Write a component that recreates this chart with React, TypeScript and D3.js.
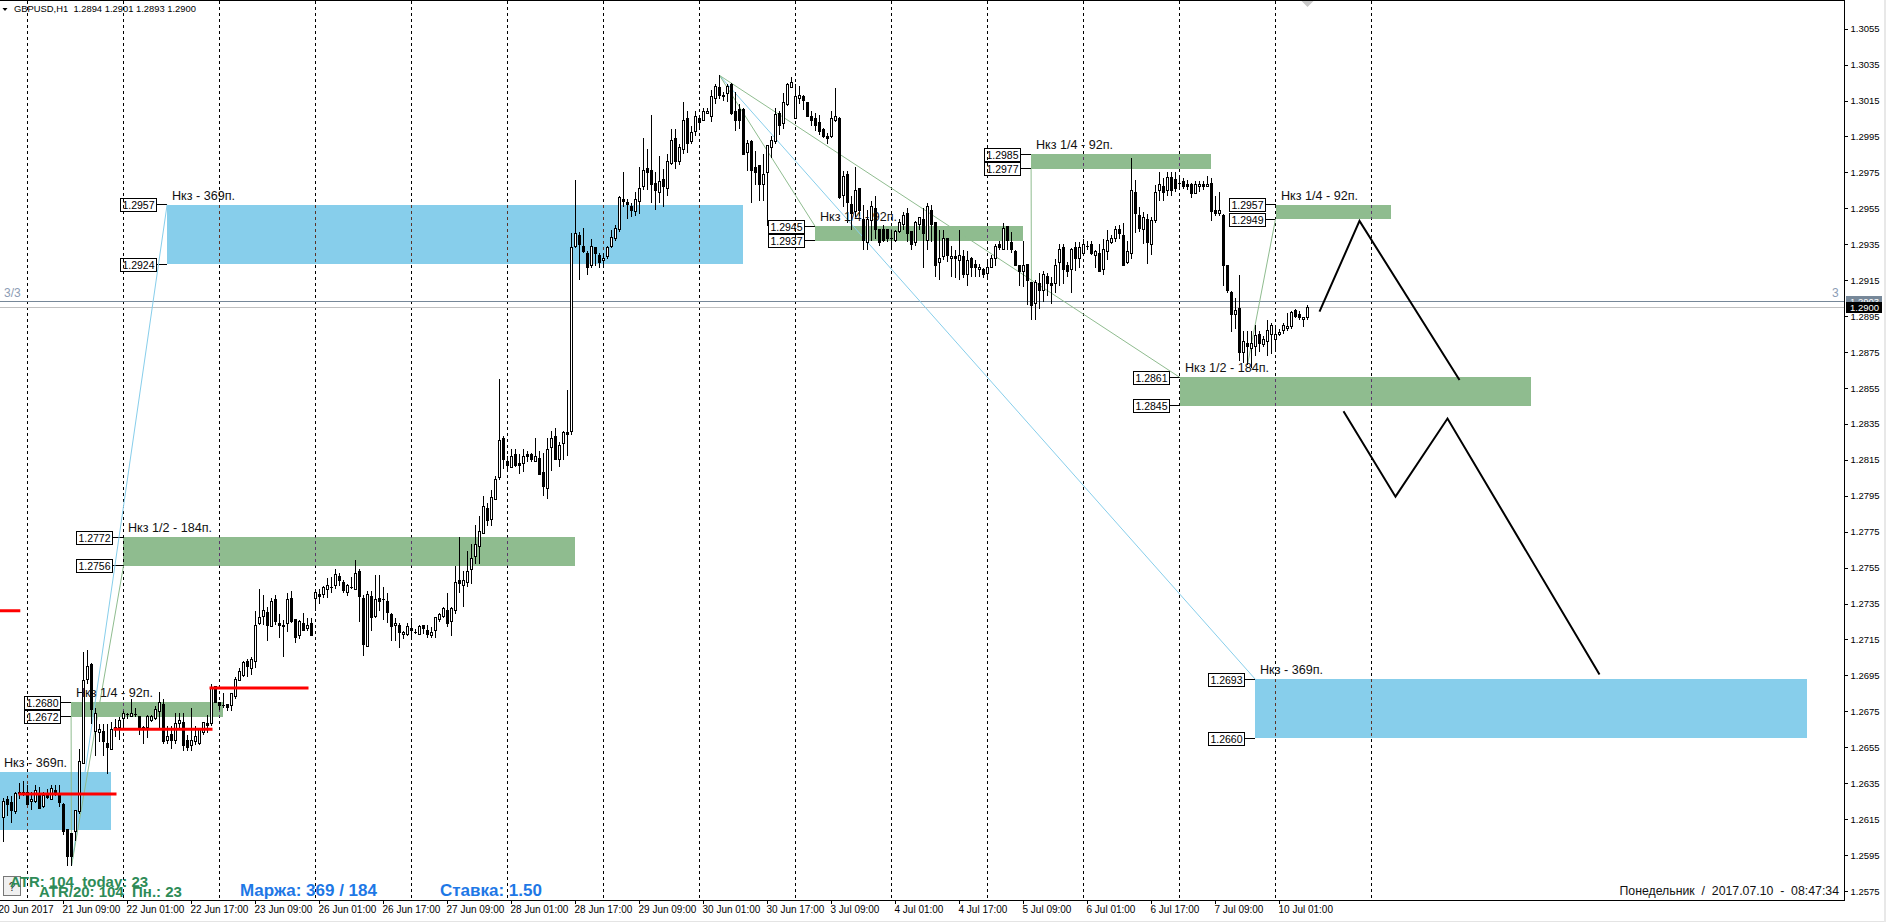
import React, { useEffect, useRef } from 'react';
import * as d3 from 'd3';

// hourly GBPUSD bars, prices in pips (1.2900 = 12900)
const opens = [
  12616,12626,12624,12619,12629,12630,12630,12625,12625,12629,
  12622,12629,12626,12631,12629,12623,12609,12607,12608,12619,
  12646,12693,12701,12664,12663,12664,12657,12654,12666,12666,
  12671,12673,12672,12673,12672,12666,12666,12670,12671,12675,
  12679,12659,12662,12659,12668,12669,12659,12656,12658,12657,
  12663,12668,12668,12689,12680,12678,12679,12678,12683,12692,
  12695,12703,12699,12703,12724,12728,12730,12722,12737,12724,
  12722,12724,12738,12726,12717,12724,12721,12724,12738,12740,
  12740,12743,12744,12745,12750,12747,12741,12744,12743,12753,
  12738,12711,12739,12728,12738,12737,12736,12729,12723,12723,
  12718,12718,12721,12719,12718,12723,12720,12717,12720,12726,
  12728,12731,12725,12731,12748,12745,12747,12754,12761,12767,
  12774,12788,12782,12793,12805,12827,12814,12811,12818,12813,
  12813,12818,12818,12814,12816,12808,12799,12822,12828,12815,
  12824,12830,12831,12934,12940,12934,12930,12923,12933,12929,
  12926,12928,12934,12938,12943,12960,12958,12956,12953,12959,
  12967,12977,12976,12969,12964,12971,12966,12980,12994,12981,
  12988,13005,12992,12998,13005,13004,13008,13006,13016,13022,
  13017,13019,13024,13009,13010,13010,12986,12992,12978,12979,
  12968,12975,12989,12992,13008,13002,13013,13022,13005,13016,
  13017,13014,13006,13005,13003,12999,12995,12995,13004,13005,
  12962,12974,12957,12953,12966,12949,12936,12948,12955,12943,
  12943,12943,12938,12937,12942,12946,12952,12942,12936,12946,
  12949,12937,12954,12947,12925,12928,12938,12927,12928,12926,
  12928,12918,12927,12924,12921,12921,12919,12922,12927,12935,
  12932,12945,12936,12931,12923,12920,12924,12914,12902,12913,
  12909,12917,12913,12913,12925,12933,12923,12921,12933,12927,
  12930,12934,12935,12929,12930,12921,12931,12936,12938,12943,
  12940,12925,12930,12964,12951,12943,12949,12935,12948,12965,
  12967,12965,12972,12971,12969,12970,12968,12968,12963,12967,
  12968,12967,12969,12954,12952,12951,12923,12908,12896,12899,
  12875,12880,12877,12878,12885,12879,12881,12885,12882,12885,
  12887,12888,12889,12898,12896,12893,12894,
];
const highs = [
  12627,12628,12628,12630,12635,12636,12634,12630,12634,12633,
  12630,12632,12634,12634,12634,12624,12609,12607,12620,12654,
  12708,12709,12702,12677,12668,12668,12668,12669,12671,12672,
  12675,12674,12682,12677,12672,12667,12673,12673,12678,12686,
  12682,12667,12667,12674,12674,12674,12662,12677,12667,12666,
  12669,12673,12690,12689,12680,12685,12679,12685,12694,12699,
  12703,12704,12705,12731,12743,12740,12733,12738,12740,12729,
  12726,12741,12742,12726,12726,12730,12727,12727,12742,12743,
  12745,12749,12750,12754,12752,12748,12746,12750,12759,12754,
  12740,12742,12742,12751,12751,12744,12741,12730,12727,12724,
  12720,12724,12727,12721,12723,12723,12723,12722,12727,12730,
  12733,12741,12733,12756,12772,12753,12764,12768,12779,12784,
  12795,12791,12798,12806,12860,12828,12817,12821,12821,12818,
  12821,12820,12819,12827,12820,12819,12827,12831,12833,12825,
  12831,12854,12941,12971,12942,12944,12931,12938,12933,12930,
  12930,12934,12943,12946,12962,12975,12960,12958,12964,12978,
  12994,12988,13007,12975,12984,12977,12985,12999,12999,12991,
  13014,13009,13001,13009,13007,13011,13011,13021,13024,13029,
  13020,13024,13025,13020,13013,13011,12993,12993,12987,12979,
  12985,12990,12995,13011,13009,13019,13025,13028,13024,13023,
  13018,13014,13009,13008,13007,13000,12997,13009,13022,13006,
  12976,12976,12962,12978,12966,12957,12954,12959,12962,12943,
  12946,12943,12943,12943,12949,12953,12955,12942,12948,12950,
  12955,12958,12957,12947,12943,12943,12938,12934,12932,12943,
  12932,12931,12928,12926,12924,12922,12925,12929,12935,12937,
  12947,12945,12942,12932,12923,12937,12924,12914,12915,12919,
  12920,12919,12917,12927,12935,12935,12925,12933,12936,12936,
  12938,12937,12937,12932,12935,12938,12943,12940,12945,12946,
  12947,12937,12983,12971,12956,12953,12952,12950,12968,12975,
  12972,12975,12975,12975,12972,12972,12971,12969,12970,12970,
  12970,12973,12972,12962,12964,12952,12923,12909,12905,12918,
  12887,12887,12887,12890,12887,12884,12893,12891,12890,12888,
  12891,12897,12898,12899,12898,12894,12901,
];
const lows = [
  12602,12617,12613,12618,12626,12628,12623,12620,12624,12621,
  12621,12626,12626,12628,12622,12606,12589,12589,12603,12618,
  12646,12690,12668,12650,12658,12650,12640,12654,12661,12659,
  12665,12671,12672,12672,12662,12657,12660,12669,12670,12665,
  12657,12657,12654,12657,12665,12653,12653,12653,12656,12656,
  12662,12663,12667,12680,12676,12677,12675,12675,12682,12692,
  12694,12694,12695,12699,12723,12723,12714,12722,12723,12716,
  12705,12719,12724,12713,12715,12720,12720,12717,12731,12735,
  12738,12738,12741,12743,12745,12741,12739,12743,12743,12725,
  12706,12711,12720,12727,12731,12726,12724,12714,12714,12710,
  12715,12717,12715,12718,12718,12718,12716,12716,12716,12725,
  12727,12722,12717,12729,12741,12733,12744,12746,12757,12757,
  12774,12778,12778,12793,12804,12810,12808,12811,12811,12807,
  12808,12814,12814,12814,12807,12795,12793,12809,12815,12811,
  12815,12817,12829,12933,12915,12930,12918,12922,12923,12922,
  12923,12927,12933,12937,12942,12956,12949,12950,12951,12952,
  12965,12965,12958,12954,12958,12956,12962,12979,12977,12979,
  12985,12986,12991,12995,12999,13004,13008,13003,13013,13016,
  13015,13014,13007,12998,12999,12985,12976,12958,12968,12959,
  12959,12945,12983,12991,12996,12999,13012,13022,13005,13013,
  13010,13006,13001,12998,12996,12994,12991,12994,13003,12960,
  12956,12947,12943,12950,12951,12932,12932,12937,12938,12934,
  12936,12936,12932,12936,12941,12943,12936,12932,12934,12943,
  12922,12932,12936,12917,12915,12926,12925,12917,12916,12915,
  12916,12912,12917,12917,12917,12916,12916,12922,12923,12932,
  12932,12932,12930,12923,12912,12911,12901,12893,12893,12899,
  12903,12906,12902,12908,12912,12913,12917,12908,12920,12922,
  12929,12932,12929,12922,12920,12918,12926,12935,12936,12938,
  12923,12924,12927,12941,12942,12935,12924,12929,12947,12959,
  12959,12962,12962,12964,12966,12966,12965,12961,12963,12964,
  12965,12967,12948,12951,12951,12912,12908,12886,12888,12870,
  12869,12868,12866,12873,12875,12878,12873,12874,12876,12884,
  12885,12887,12888,12894,12893,12889,12893,
];
const closes = [
  12625,12623,12620,12629,12630,12629,12623,12626,12631,12621,
  12628,12627,12632,12629,12624,12608,12594,12594,12620,12647,
  12692,12700,12676,12674,12665,12658,12655,12665,12665,12670,
  12674,12673,12674,12673,12666,12665,12672,12672,12676,12680,
  12658,12661,12659,12668,12670,12656,12655,12659,12661,12665,
  12669,12667,12688,12680,12678,12678,12677,12685,12693,12697,
  12702,12700,12704,12723,12727,12731,12723,12736,12725,12723,
  12723,12737,12725,12716,12725,12720,12723,12717,12741,12739,
  12744,12745,12744,12751,12748,12742,12745,12744,12752,12739,
  12712,12740,12727,12737,12736,12737,12730,12722,12724,12719,
  12719,12722,12720,12719,12722,12721,12718,12719,12727,12729,
  12732,12724,12732,12747,12746,12748,12753,12760,12768,12775,
  12789,12781,12794,12804,12826,12815,12812,12817,12812,12812,
  12817,12817,12815,12817,12807,12800,12821,12827,12815,12823,
  12830,12829,12933,12941,12935,12931,12922,12934,12930,12925,
  12927,12933,12939,12944,12961,12959,12957,12954,12960,12966,
  12976,12975,12968,12965,12970,12967,12981,12993,12981,12989,
  13004,12991,12997,13006,13003,13009,13009,13017,13023,13018,
  13018,13023,13008,13004,13004,12985,12991,12976,12975,12968,
  12974,12990,12993,13007,13001,13014,13024,13025,13017,13018,
  13015,13006,13004,13001,12998,12995,12994,13005,13006,12961,
  12973,12958,12952,12965,12954,12937,12949,12956,12943,12936,
  12937,12938,12938,12942,12947,12951,12941,12935,12947,12950,
  12941,12956,12946,12923,12927,12938,12929,12928,12927,12929,
  12918,12926,12922,12922,12922,12918,12922,12927,12934,12933,
  12944,12937,12932,12923,12920,12923,12915,12901,12914,12909,
  12918,12913,12912,12923,12932,12921,12920,12932,12927,12933,
  12935,12934,12930,12931,12920,12932,12937,12938,12943,12941,
  12923,12931,12965,12952,12944,12950,12936,12948,12964,12968,
  12964,12972,12965,12966,12969,12967,12967,12963,12968,12968,
  12967,12968,12953,12952,12954,12923,12909,12896,12898,12875,
  12881,12878,12880,12884,12880,12882,12887,12890,12885,12886,
  12890,12889,12897,12895,12894,12894,12900,
];

const priceTicks = d3.range(12575, 13056, 20);
const timeLabels = [
  '20 Jun 2017', '21 Jun 09:00', '22 Jun 01:00', '22 Jun 17:00', '23 Jun 09:00', '26 Jun 01:00', '26 Jun 17:00',
  '27 Jun 09:00', '28 Jun 01:00', '28 Jun 17:00', '29 Jun 09:00', '30 Jun 01:00', '30 Jun 17:00', '3 Jul 09:00',
  '4 Jul 01:00', '4 Jul 17:00', '5 Jul 09:00', '6 Jul 01:00', '6 Jul 17:00', '7 Jul 09:00', '10 Jul 01:00',
];

// target zones: price band, bar span, kind, caption
const zoneHighs = [12641, 12680, 12772, 12957, 12945, 12985, 12957, 12861, 12693];
const zoneLows = [12609, 12672, 12756, 12924, 12937, 12977, 12949, 12845, 12660];
const zoneFrom = [-2, 16.9, 30, 40.9, 202.9, 256.9, 318, 294, 312.9];
const zoneTo = [26.9, 54.9, 142.75, 184.75, 254.9, 301.9, 346.75, 382, 450.9];
const zoneKinds = ['blue', 'green', 'green', 'blue', 'green', 'green', 'green', 'green', 'blue'];
const zoneCaptions = [
  'Нкз - 369п.', 'Нкз 1/4 - 92п.', 'Нкз 1/2 - 184п.', 'Нкз - 369п.', 'Нкз 1/4 - 92п.',
  'Нкз 1/4 - 92п.', 'Нкз 1/4 - 92п.', 'Нкз 1/2 - 184п.', 'Нкз - 369п.',
];

// thin lines from a swing extreme to a zone: [bar, price, bar, price]
const blueLinks = [
  [17, 12589, 40.9, 12957],
  [179, 13029, 312.9, 12693],
];
const greenLinks = [
  [17, 12589, 30, 12756],
  [17, 12589, 16.9, 12672],
  [179, 13029, 202.9, 12945],
  [179, 13029, 294, 12861],
  [257, 12893, 256.9, 12977],
  [311, 12868, 318, 12949],
];

// daily levels: [from bar, to bar, price]
const redLevels = [
  [-2, 4.2, 12731],
  [3.75, 28.25, 12629],
  [27.5, 52.25, 12665],
  [51.5, 76.25, 12688],
];

// hand drawn forecast
const forecastABars = [329, 339, 364];
const forecastAPrices = [12897.5, 12948, 12859.5];
const forecastBBars = [335, 348, 361, 399];
const forecastBPrices = [12842, 12794.5, 12838, 12695.5];

const ask = 12903;
const bid = 12900;

const axisFont = '"Liberation Sans", Arial, sans-serif';

export default function App() {
  const ref = useRef<SVGSVGElement>(null);

  useEffect(() => {
    const W = 1886, H = 922;
    const plotRight = 1844, plotBottom = 900;

    const svg = d3.select(ref.current);
    svg.selectAll('*').remove();

    const x = d3.scaleLinear().domain([0, 326]).range([3.5, 1307.5]);
    const y = d3.scaleLinear().domain([12575, 13055]).range([891, 28.7]);
    const snap = (v: number) => Math.round(v - 0.5) + 0.5;

    svg.append('rect').attr('width', W).attr('height', H).attr('fill', '#fff');
    svg.append('rect').attr('x', 0).attr('y', 921).attr('width', W).attr('height', 1).attr('fill', '#e4e4e4');
    svg.append('rect').attr('x', 1884).attr('y', 0).attr('width', 2).attr('height', H).attr('fill', '#e8e8e8');

    // zones
    zoneHighs.forEach((hi, i) => {
      svg.append('rect')
        .attr('x', Math.round(x(zoneFrom[i])))
        .attr('y', Math.round(y(hi)))
        .attr('width', Math.round(x(zoneTo[i])) - Math.round(x(zoneFrom[i])))
        .attr('height', Math.round(y(zoneLows[i])) - Math.round(y(hi)))
        .attr('fill', zoneKinds[i] === 'blue' ? '#87ceeb' : '#8fbc8f');
    });

    // price boxes left of the zones (the first zone's are off screen)
    zoneHighs.forEach((hi, i) => {
      if (i === 0) return;
      const left = Math.round(x(zoneFrom[i]));
      [hi, zoneLows[i]].forEach(p => {
        const py = snap(y(p));
        svg.append('line').attr('x1', left - 10).attr('x2', left).attr('y1', py).attr('y2', py)
          .attr('stroke', '#000').attr('shape-rendering', 'crispEdges');
        svg.append('rect').attr('x', left - 46.5).attr('y', py - 6).attr('width', 36).attr('height', 13)
          .attr('fill', '#fff').attr('stroke', '#000').attr('shape-rendering', 'crispEdges');
        svg.append('text').attr('x', left - 28.5).attr('y', py + 4)
          .attr('text-anchor', 'middle').attr('font-family', axisFont).attr('font-size', 10.5).attr('fill', '#000')
          .text((p / 10000).toFixed(4));
      });
    });

    // day separators
    const days = d3.range(6, 343, 24);
    days.forEach(d => {
      const dx = snap(x(d));
      svg.append('line').attr('x1', dx).attr('x2', dx).attr('y1', 1).attr('y2', plotBottom)
        .attr('stroke', '#000').attr('stroke-dasharray', '3 3').attr('shape-rendering', 'crispEdges');
      zoneHighs.forEach((hi, i) => {
        if (d <= zoneFrom[i] || d >= zoneTo[i]) return;
        const top = Math.round(y(hi)), bottom = Math.round(y(zoneLows[i]));
        svg.append('line').attr('x1', dx).attr('x2', dx).attr('y1', top).attr('y2', bottom)
          .attr('stroke', zoneKinds[i] === 'blue' ? '#5b3328' : '#5a3a6a').attr('stroke-dasharray', '3 3')
          .attr('stroke-dashoffset', (top - 1) % 6).attr('shape-rendering', 'crispEdges');
      });
    });

    // bid / ask lines
    svg.append('line').attr('x1', 0).attr('x2', plotRight).attr('y1', snap(y(ask))).attr('y2', snap(y(ask)))
      .attr('stroke', '#778899').attr('shape-rendering', 'crispEdges');
    svg.append('line').attr('x1', 0).attr('x2', plotRight).attr('y1', snap(y(bid))).attr('y2', snap(y(bid)))
      .attr('stroke', '#c0c0c0').attr('shape-rendering', 'crispEdges');

    // links
    blueLinks.forEach(l => {
      svg.append('line').attr('x1', x(l[0])).attr('y1', y(l[1])).attr('x2', x(l[2])).attr('y2', y(l[3]))
        .attr('stroke', '#87ceeb').attr('stroke-width', 1);
    });
    greenLinks.forEach(l => {
      svg.append('line').attr('x1', x(l[0])).attr('y1', y(l[1])).attr('x2', x(l[2])).attr('y2', y(l[3]))
        .attr('stroke', '#8fbc8f').attr('stroke-width', 1);
    });

    // candles
    const candles = svg.append('g').attr('shape-rendering', 'crispEdges');
    opens.forEach((o, i) => {
      const c = closes[i];
      const cx = x(i);
      candles.append('line').attr('x1', cx).attr('x2', cx)
        .attr('y1', Math.round(y(highs[i]))).attr('y2', Math.round(y(lows[i]))).attr('stroke', '#000');
      const top = snap(y(Math.max(o, c)));
      const bottom = snap(y(Math.min(o, c)));
      if (top === bottom) {
        candles.append('line').attr('x1', cx - 1.5).attr('x2', cx + 1.5).attr('y1', top).attr('y2', top).attr('stroke', '#000');
      } else {
        candles.append('rect').attr('x', cx - 1).attr('y', top).attr('width', 2).attr('height', bottom - top)
          .attr('fill', c >= o ? '#fff' : '#000').attr('stroke', '#000');
      }
    });

    // daily red levels
    redLevels.forEach(l => {
      svg.append('line').attr('x1', x(l[0])).attr('x2', x(l[1])).attr('y1', y(l[2])).attr('y2', y(l[2]))
        .attr('stroke', '#f00').attr('stroke-width', 3);
    });

    // forecast
    const forecast = d3.line<number>().x(d => x(d));
    svg.append('path')
      .attr('d', forecast.y((_, i) => y(forecastAPrices[i]))(forecastABars))
      .attr('fill', 'none').attr('stroke', '#000').attr('stroke-width', 2);
    svg.append('path')
      .attr('d', forecast.y((_, i) => y(forecastBPrices[i]))(forecastBBars))
      .attr('fill', 'none').attr('stroke', '#000').attr('stroke-width', 2);

    // zone captions
    zoneCaptions.forEach((t, i) => {
      svg.append('text')
        .attr('x', i === 0 ? 4 : Math.round(x(zoneFrom[i])) + 5)
        .attr('y', Math.round(y(zoneHighs[i])) - 5)
        .attr('font-family', axisFont).attr('font-size', 12.6).attr('fill', '#111')
        .text(t);
    });

    // frame
    svg.append('line').attr('x1', 0).attr('x2', plotRight + 1).attr('y1', 0.5).attr('y2', 0.5)
      .attr('stroke', '#000').attr('shape-rendering', 'crispEdges');

    // price axis
    const yAxis = svg.append('g').attr('transform', `translate(${plotRight + 0.5},0)`)
      .call(d3.axisRight(y).tickValues(priceTicks).tickSize(3).tickPadding(3)
        .tickFormat(d => (+d / 10000).toFixed(4)));
    yAxis.select('.domain').attr('d', `M0,0V${plotBottom + 1}`).attr('stroke', '#000');
    yAxis.selectAll('line').attr('stroke', '#000').attr('shape-rendering', 'crispEdges');
    yAxis.selectAll('text').attr('font-family', axisFont).attr('font-size', 9.5).attr('fill', '#000');

    // time axis
    svg.append('line').attr('x1', 0).attr('x2', plotRight + 1).attr('y1', plotBottom + 0.5).attr('y2', plotBottom + 0.5)
      .attr('stroke', '#000').attr('shape-rendering', 'crispEdges');
    timeLabels.forEach((t, i) => {
      const tx = snap(x(i * 16 - 1));
      if (i > 0) {
        svg.append('line').attr('x1', tx).attr('x2', tx).attr('y1', plotBottom + 1).attr('y2', plotBottom + 4)
          .attr('stroke', '#000').attr('shape-rendering', 'crispEdges');
      }
      svg.append('text').attr('x', tx - 1).attr('y', plotBottom + 13)
        .attr('font-family', axisFont).attr('font-size', 10).attr('fill', '#000').text(t);
    });

    // bid / ask tags
    svg.append('rect').attr('x', 1846).attr('y', 296).attr('width', 36).attr('height', 11).attr('fill', '#778899');
    svg.append('text').attr('x', 1850).attr('y', 305).attr('font-family', axisFont).attr('font-size', 9.5).attr('fill', '#fff')
      .text((ask / 10000).toFixed(4));
    svg.append('rect').attr('x', 1846).attr('y', 302).attr('width', 36).attr('height', 11).attr('fill', '#000');
    svg.append('text').attr('x', 1850).attr('y', 311).attr('font-family', axisFont).attr('font-size', 9.5).attr('fill', '#fff')
      .text((bid / 10000).toFixed(4));

    // header
    svg.append('path').attr('d', 'M2.5,8H7.5L5,11Z').attr('fill', '#000');
    svg.append('text').attr('x', 14).attr('y', 12).attr('font-family', axisFont).attr('font-size', 9.4).attr('fill', '#000')
      .attr('xml:space', 'preserve').style('white-space', 'pre')
      .text('GBPUSD,H1  1.2894 1.2901 1.2893 1.2900');
    svg.append('path').attr('d', `M${x(326) - 6},1H${x(326) + 6}L${x(326)},7Z`).attr('fill', '#c8c8c8');

    // window number marks
    svg.append('text').attr('x', 4).attr('y', 297).attr('font-family', axisFont).attr('font-size', 12).attr('fill', '#8c9db5').text('3/3');
    svg.append('text').attr('x', 1832).attr('y', 297).attr('font-family', axisFont).attr('font-size', 12).attr('fill', '#8c9db5').text('3');

    // panel texts
    const panel = (tx: number, ty: number, t: string, color: string, size: number) =>
      svg.append('text').attr('x', tx).attr('y', ty).attr('font-family', axisFont).attr('font-weight', 'bold')
        .attr('font-size', size).attr('fill', color).style('white-space', 'pre').text(t);
    svg.append('rect').attr('x', 3.5).attr('y', 876.5).attr('width', 17).attr('height', 19)
      .attr('fill', '#f0f0f0').attr('stroke', '#777').attr('shape-rendering', 'crispEdges');
    svg.append('text').attr('x', 12).attr('y', 891).attr('text-anchor', 'middle').attr('font-family', axisFont)
      .attr('font-size', 12).attr('fill', '#333').text('?');
    panel(10, 887, 'ATR: 104  today: 23', '#2e8b57', 15);
    panel(39, 897, 'ATR/20: 104  Пн.: 23', '#2e8b57', 15);
    panel(240, 896, 'Маржа: 369 / 184', '#1e78e6', 17);
    panel(440, 896, 'Ставка: 1.50', '#1e78e6', 17);

    svg.append('text').attr('x', 1839).attr('y', 895).attr('text-anchor', 'end').attr('font-family', axisFont)
      .attr('font-size', 12.3).attr('fill', '#111').style('white-space', 'pre')
      .text('Понедельник  /  2017.07.10  -  08:47:34');
  }, []);

  return (
    <svg ref={ref} width={1886} height={922}
      style={{ position: 'fixed', left: 0, top: 0, display: 'block' }} />
  );
}
